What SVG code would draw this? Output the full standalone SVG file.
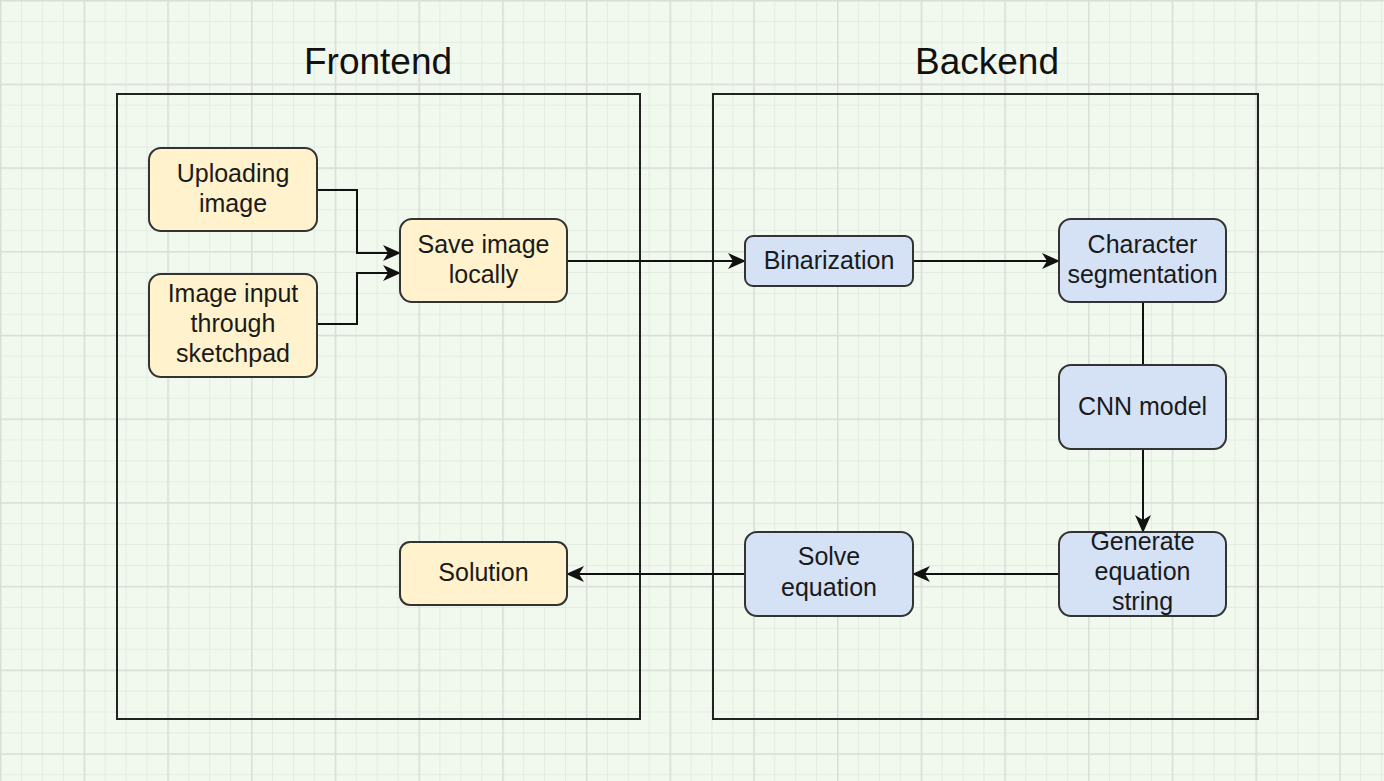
<svg xmlns="http://www.w3.org/2000/svg" width="1384" height="781" viewBox="0 0 1384 781">
<style>
.t{font-family:"Liberation Sans",Arial,sans-serif;font-size:25px;fill:#1a1a1a;text-anchor:middle}
.title{font-family:"Liberation Sans",Arial,sans-serif;font-size:37px;fill:#111;text-anchor:middle}
.cont{fill:none;stroke:#222;stroke-width:2}
.o{fill:#fff2cc;stroke:#333;stroke-width:2}
.b{fill:#d5e2f6;stroke:#333;stroke-width:2}
.c{fill:none;stroke:#111;stroke-width:2}
</style>
<defs>
<pattern id="minor" width="20.925" height="20.925" patternUnits="userSpaceOnUse">
<path d="M0,0.5 H20.925 M0.5,0 V20.925" stroke="#e3ece1" stroke-width="1" fill="none"/>
</pattern>
<pattern id="major" width="83.7" height="83.7" patternUnits="userSpaceOnUse">
<path d="M0,0.75 H83.7 M0.75,0 V83.7" stroke="#d9ddd8" stroke-width="1.5" fill="none"/>
</pattern>
<marker id="arr" markerUnits="userSpaceOnUse" viewBox="0 0 18 16" refX="17" refY="8" markerWidth="18" markerHeight="16" orient="auto">
<path d="M0,0 L18,8 L0,16 L5,8 Z" fill="#111"/>
</marker>
</defs>
<rect width="1384" height="781" fill="#f1f9ef"/>
<rect width="1384" height="781" fill="url(#minor)"/>
<rect width="1384" height="781" fill="url(#major)"/>

<g id="frontend">
<rect class="cont" x="117" y="94" width="523" height="625"/>
<text class="title" x="378" y="74">Frontend</text>
</g>
<g id="backend">
<rect class="cont" x="713" y="94" width="545" height="625"/>
<text class="title" x="987" y="74">Backend</text>
</g>

<g id="connectors">
<path class="c" d="M317,190 H357 V253 H400" marker-end="url(#arr)"/>
<path class="c" d="M317,324 H357 V273 H400" marker-end="url(#arr)"/>
<path class="c" d="M567,261 H745" marker-end="url(#arr)"/>
<path class="c" d="M913,261 H1059" marker-end="url(#arr)"/>
<path class="c" d="M1143,302 V365"/>
<path class="c" d="M1143,449 V532" marker-end="url(#arr)"/>
<path class="c" d="M1059,574 H913" marker-end="url(#arr)"/>
<path class="c" d="M745,574 H567" marker-end="url(#arr)"/>
</g>

<g id="uploading">
<rect class="o" x="149" y="148" width="168" height="83" rx="12"/>
<text class="t" x="233" y="182">Uploading</text>
<text class="t" x="233" y="212">image</text>
</g>
<g id="sketchpad">
<rect class="o" x="149" y="274" width="168" height="103" rx="12"/>
<text class="t" x="233" y="302">Image input</text>
<text class="t" x="233" y="332">through</text>
<text class="t" x="233" y="362">sketchpad</text>
</g>
<g id="save">
<rect class="o" x="400" y="219" width="167" height="83" rx="12"/>
<text class="t" x="483.5" y="253">Save image</text>
<text class="t" x="483.5" y="283">locally</text>
</g>
<g id="solution">
<rect class="o" x="400" y="542" width="167" height="63" rx="10"/>
<text class="t" x="483.5" y="581">Solution</text>
</g>
<g id="binarization">
<rect class="b" x="745" y="236" width="168" height="50" rx="8"/>
<text class="t" x="829" y="269">Binarization</text>
</g>
<g id="segmentation">
<rect class="b" x="1059" y="219" width="167" height="83" rx="12"/>
<text class="t" x="1142.5" y="253">Character</text>
<text class="t" x="1142.5" y="283">segmentation</text>
</g>
<g id="cnn">
<rect class="b" x="1059" y="365" width="167" height="84" rx="12"/>
<text class="t" x="1142.5" y="415">CNN model</text>
</g>
<g id="generate">
<rect class="b" x="1059" y="532" width="167" height="84" rx="12"/>
<text class="t" x="1142.5" y="550">Generate</text>
<text class="t" x="1142.5" y="580">equation</text>
<text class="t" x="1142.5" y="610">string</text>
</g>
<g id="solve">
<rect class="b" x="745" y="532" width="168" height="84" rx="12"/>
<text class="t" x="829" y="565">Solve</text>
<text class="t" x="829" y="596">equation</text>
</g>
</svg>
